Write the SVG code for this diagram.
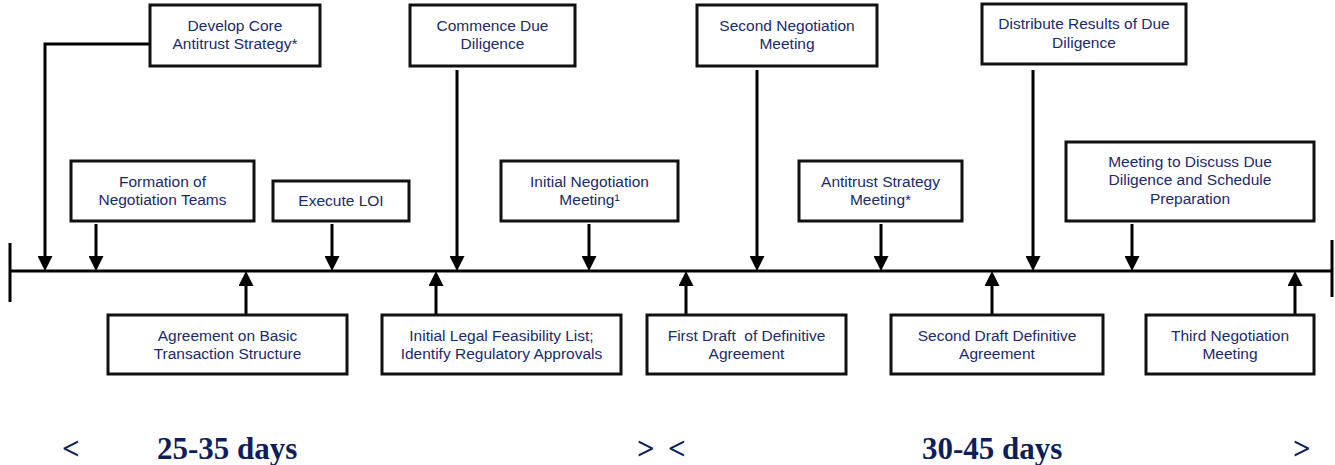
<svg xmlns="http://www.w3.org/2000/svg" width="1335" height="465" viewBox="0 0 1335 465">
<defs>
<style>
.box{fill:#fff;stroke:#111;stroke-width:3}
.lbl{font-family:"Liberation Sans",Arial,sans-serif;font-size:15.5px;fill:#1b2a6b;text-anchor:middle}
.con{fill:none;stroke:#000;stroke-width:3}
.days{font-family:"Liberation Serif","Times New Roman",serif;font-size:31px;font-weight:bold;fill:#0e1e5b}
</style>
<marker id="ah" markerUnits="userSpaceOnUse" markerWidth="15" markerHeight="15" refX="0" refY="7.5" orient="auto" viewBox="0 0 15 15">
<path d="M0,0 L15,7.5 L0,15 z" fill="#000"/>
</marker>
</defs>
<rect width="1335" height="465" fill="#fff"/>
<g id="connectors">
<line class="con" x1="10" y1="271" x2="1332" y2="271"/>
<line class="con" x1="10" y1="243" x2="10" y2="302"/>
<line class="con" x1="1332" y1="240" x2="1332" y2="297"/>
<polyline class="con" points="150,44 45,44 45,256" marker-end="url(#ah)"/>
<line class="con" x1="457" y1="70" x2="457" y2="256" marker-end="url(#ah)"/>
<line class="con" x1="757" y1="70" x2="757" y2="256" marker-end="url(#ah)"/>
<line class="con" x1="1033" y1="70" x2="1033" y2="256" marker-end="url(#ah)"/>
<line class="con" x1="96" y1="224" x2="96" y2="256" marker-end="url(#ah)"/>
<line class="con" x1="332" y1="224" x2="332" y2="256" marker-end="url(#ah)"/>
<line class="con" x1="589" y1="224" x2="589" y2="256" marker-end="url(#ah)"/>
<line class="con" x1="881" y1="224" x2="881" y2="256" marker-end="url(#ah)"/>
<line class="con" x1="1132" y1="224" x2="1132" y2="256" marker-end="url(#ah)"/>
<line class="con" x1="246" y1="315" x2="246" y2="286" marker-end="url(#ah)"/>
<line class="con" x1="436" y1="315" x2="436" y2="286" marker-end="url(#ah)"/>
<line class="con" x1="686" y1="315" x2="686" y2="286" marker-end="url(#ah)"/>
<line class="con" x1="992" y1="315" x2="992" y2="286" marker-end="url(#ah)"/>
<line class="con" x1="1295" y1="315" x2="1295" y2="286" marker-end="url(#ah)"/>
</g>
<g id="n-develop-core"><rect class="box" x="150" y="5" width="170" height="61"/><text class="lbl" x="235" y="31">Develop Core</text><text class="lbl" x="235" y="49">Antitrust Strategy*</text></g>
<g id="n-commence-dd"><rect class="box" x="410" y="5" width="165" height="61"/><text class="lbl" x="492.5" y="31">Commence Due</text><text class="lbl" x="492.5" y="49">Diligence</text></g>
<g id="n-second-neg"><rect class="box" x="697" y="5" width="180" height="61"/><text class="lbl" x="787" y="31">Second Negotiation</text><text class="lbl" x="787" y="49">Meeting</text></g>
<g id="n-distribute"><rect class="box" x="982" y="4" width="204" height="60"/><text class="lbl" x="1084" y="29">Distribute Results of Due</text><text class="lbl" x="1084" y="48">Diligence</text></g>
<g id="n-formation"><rect class="box" x="71" y="161" width="183" height="60"/><text class="lbl" x="162.5" y="187">Formation of</text><text class="lbl" x="162.5" y="205">Negotiation Teams</text></g>
<g id="n-execute-loi"><rect class="box" x="273" y="181" width="136" height="40"/><text class="lbl" x="341" y="206">Execute LOI</text></g>
<g id="n-initial-neg"><rect class="box" x="501" y="161" width="177" height="60"/><text class="lbl" x="589.5" y="187">Initial Negotiation</text><text class="lbl" x="589.5" y="205">Meeting¹</text></g>
<g id="n-antitrust-meeting"><rect class="box" x="799" y="161" width="163" height="60"/><text class="lbl" x="880.5" y="187">Antitrust Strategy</text><text class="lbl" x="880.5" y="205">Meeting*</text></g>
<g id="n-meeting-discuss"><rect class="box" x="1066" y="142" width="248" height="79"/><text class="lbl" x="1190" y="167">Meeting to Discuss Due</text><text class="lbl" x="1190" y="185">Diligence and Schedule</text><text class="lbl" x="1190" y="204">Preparation</text></g>
<g id="n-agreement"><rect class="box" x="108" y="315" width="239" height="59"/><text class="lbl" x="227.5" y="341">Agreement on Basic</text><text class="lbl" x="227.5" y="359">Transaction Structure</text></g>
<g id="n-legal-feasibility"><rect class="box" x="382" y="315" width="239" height="59"/><text class="lbl" x="501.5" y="341">Initial Legal Feasibility List;</text><text class="lbl" x="501.5" y="359">Identify Regulatory Approvals</text></g>
<g id="n-first-draft"><rect class="box" x="647" y="315" width="199" height="59"/><text class="lbl" x="746.5" y="341" xml:space="preserve">First Draft  of Definitive</text><text class="lbl" x="746.5" y="359">Agreement</text></g>
<g id="n-second-draft"><rect class="box" x="891" y="315" width="212" height="59"/><text class="lbl" x="997" y="341">Second Draft Definitive</text><text class="lbl" x="997" y="359">Agreement</text></g>
<g id="n-third-neg"><rect class="box" x="1146" y="315" width="168" height="59"/><text class="lbl" x="1230" y="341">Third Negotiation</text><text class="lbl" x="1230" y="359">Meeting</text></g>
<g id="durations">
<text class="days" x="62" y="459">&lt;</text>
<text class="days" x="157" y="459">25-35 days</text>
<text class="days" x="637" y="459">&gt;</text>
<text class="days" x="668" y="459">&lt;</text>
<text class="days" x="922" y="459">30-45 days</text>
<text class="days" x="1293" y="459">&gt;</text>
</g>
</svg>
